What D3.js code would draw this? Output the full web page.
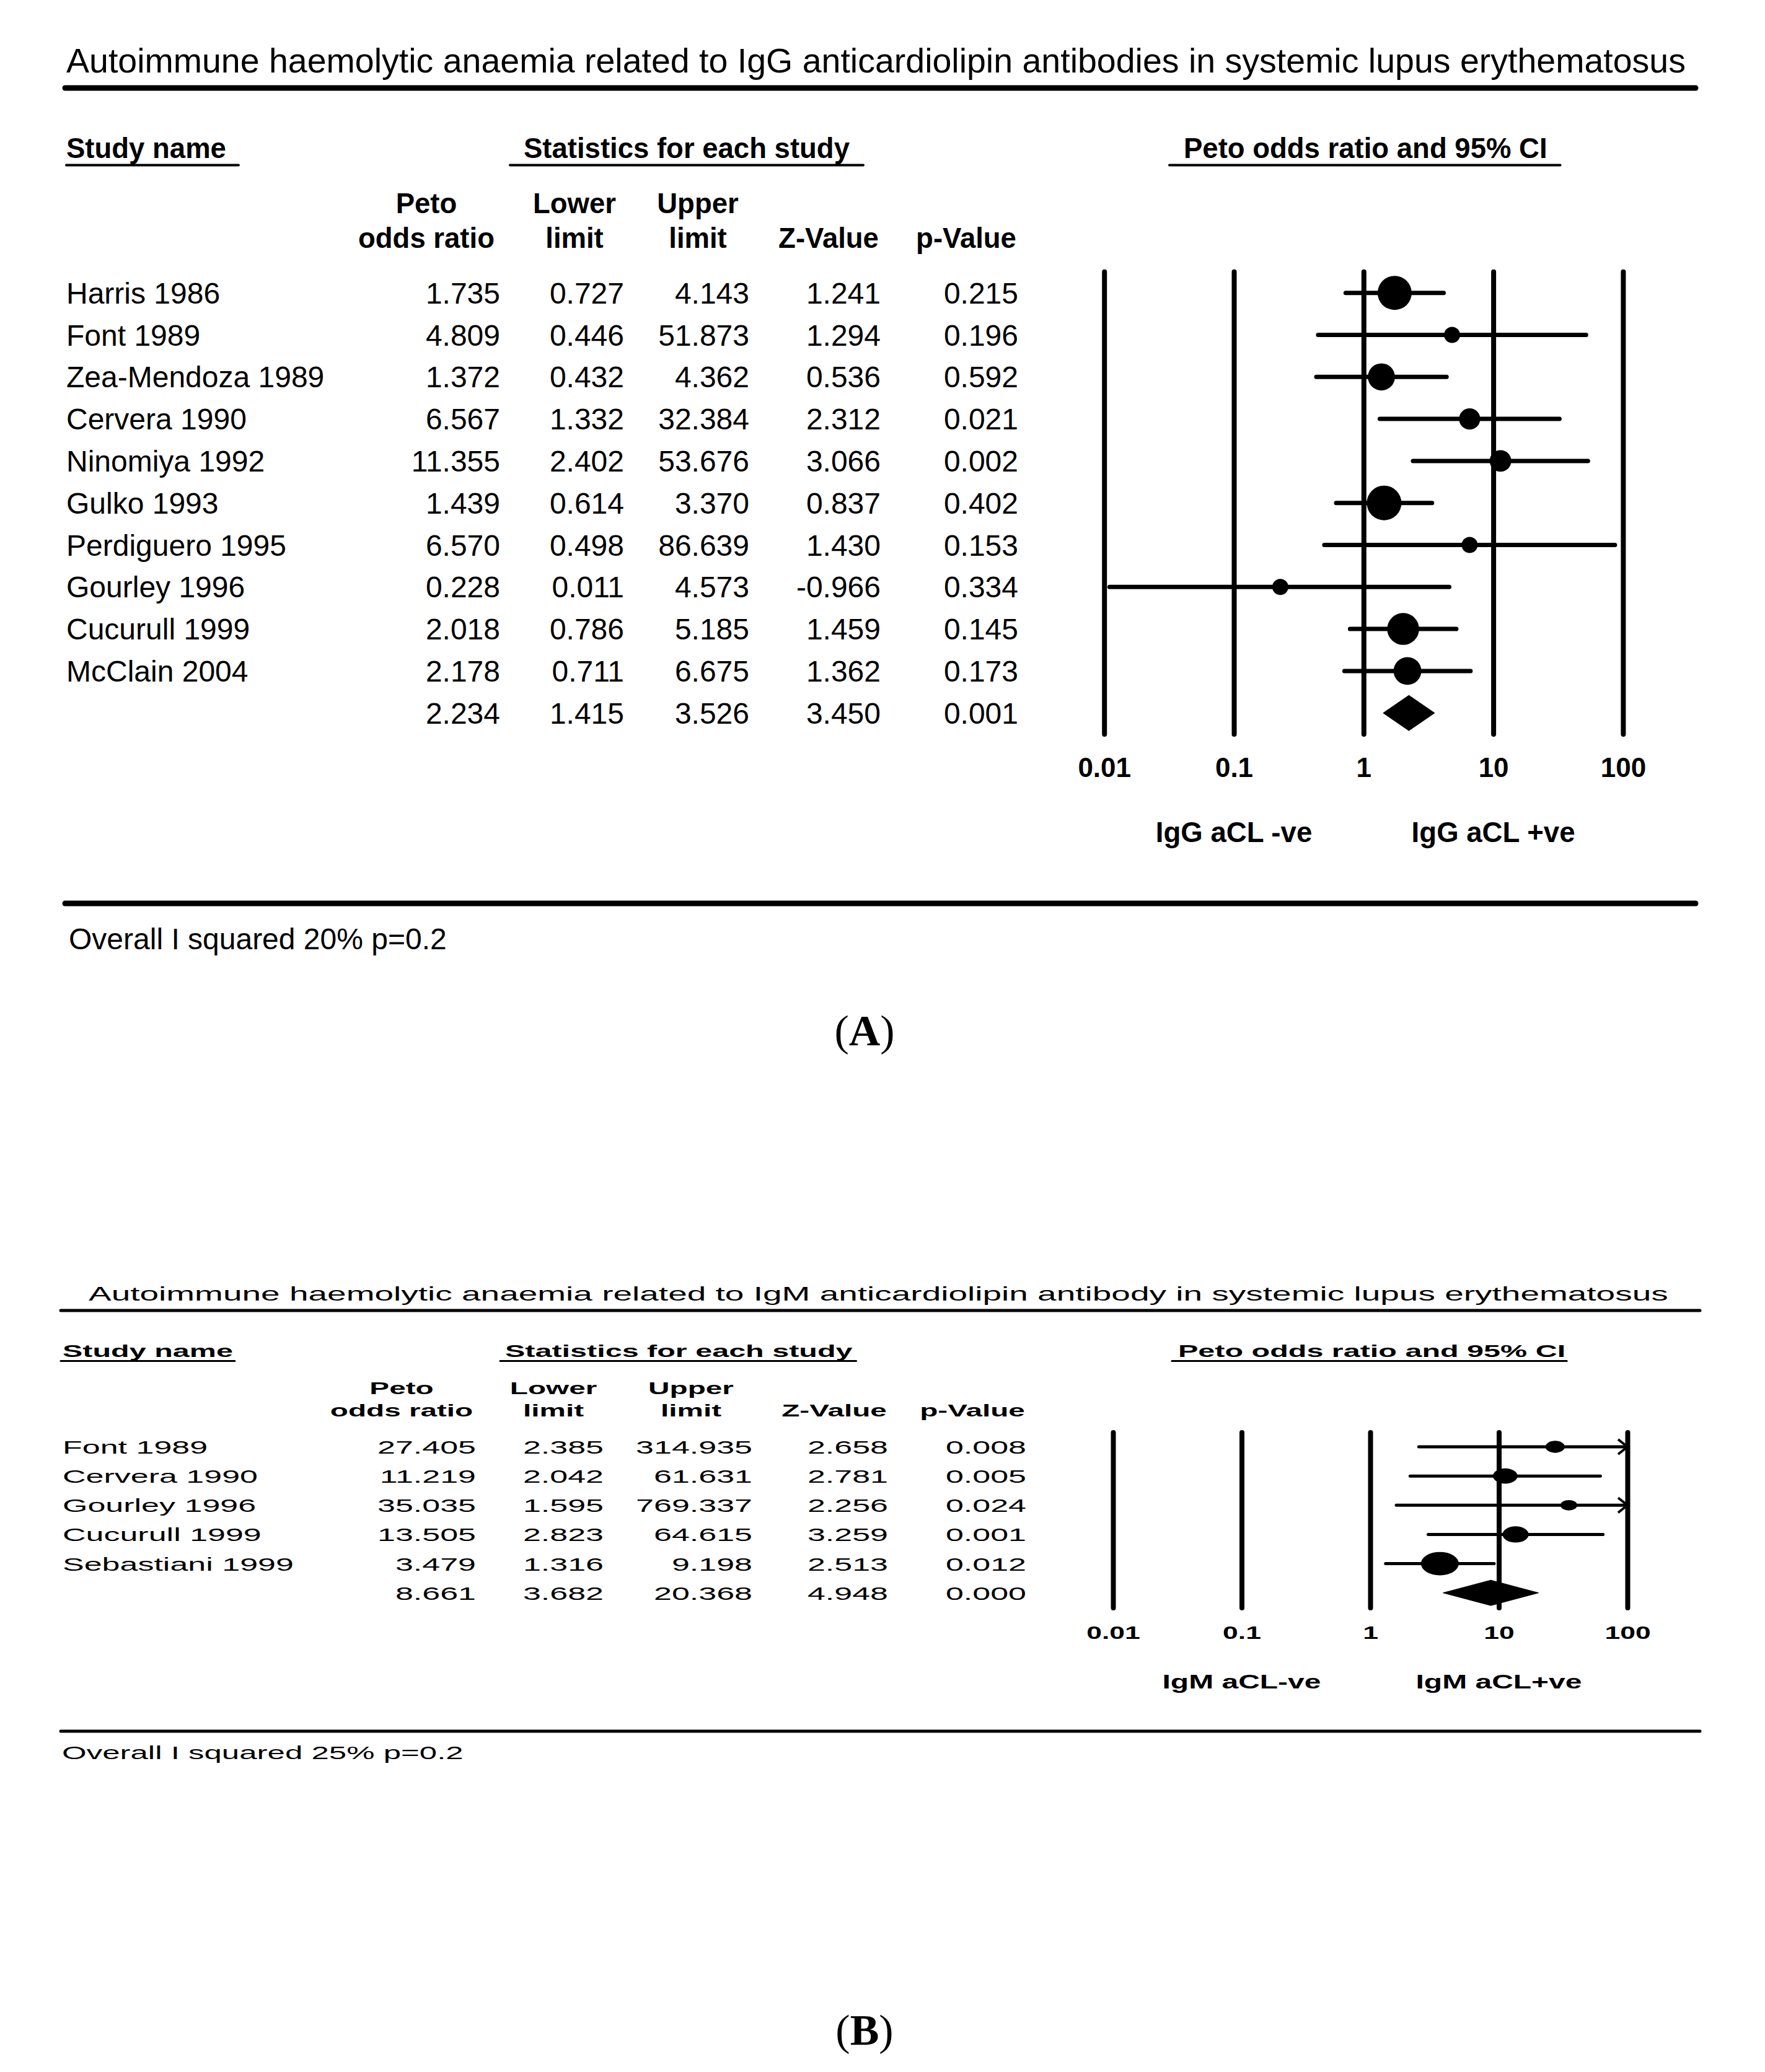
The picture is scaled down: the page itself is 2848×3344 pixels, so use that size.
<!DOCTYPE html>
<html><head><meta charset="utf-8">
<script src="https://cdn.jsdelivr.net/npm/d3@7"></script>
<style>html,body{margin:0;padding:0;background:#fff}</style>
</head><body>
<svg id="c" width="2848" height="3344" xmlns="http://www.w3.org/2000/svg"></svg>
<script>
// ---------------- Panel A data ----------------
const titleA = "Autoimmune haemolytic anaemia related to IgG anticardiolipin antibodies in systemic lupus erythematosus";
const studiesA = ["Harris 1986","Font 1989","Zea-Mendoza 1989","Cervera 1990","Ninomiya 1992","Gulko 1993","Perdiguero 1995","Gourley 1996","Cucurull 1999","McClain 2004",""];
const orA    = [1.735, 4.809, 1.372, 6.567, 11.355, 1.439, 6.570, 0.228, 2.018, 2.178, 2.234];
const lowerA = [0.727, 0.446, 0.432, 1.332, 2.402, 0.614, 0.498, 0.011, 0.786, 0.711, 1.415];
const upperA = [4.143, 51.873, 4.362, 32.384, 53.676, 3.370, 86.639, 4.573, 5.185, 6.675, 3.526];
const zA     = [1.241, 1.294, 0.536, 2.312, 3.066, 0.837, 1.430, -0.966, 1.459, 1.362, 3.450];
const pA     = [0.215, 0.196, 0.592, 0.021, 0.002, 0.402, 0.153, 0.334, 0.145, 0.173, 0.001];
const sideLabelsA = ["IgG aCL -ve", "IgG aCL +ve"];
const footA = "Overall I squared 20% p=0.2";

// ---------------- Panel B data ----------------
const titleB = "Autoimmune haemolytic anaemia related to IgM anticardiolipin antibody in systemic lupus erythematosus";
const studiesB = ["Font 1989","Cervera 1990","Gourley 1996","Cucurull 1999","Sebastiani 1999",""];
const orB    = [27.405, 11.219, 35.035, 13.505, 3.479, 8.661];
const lowerB = [2.385, 2.042, 1.595, 2.823, 1.316, 3.682];
const upperB = [314.935, 61.631, 769.337, 64.615, 9.198, 20.368];
const zB     = [2.658, 2.781, 2.256, 3.259, 2.513, 4.948];
const pB     = [0.008, 0.005, 0.024, 0.001, 0.012, 0.000];
const sideLabelsB = ["IgM aCL-ve", "IgM aCL+ve"];
const footB = "Overall I squared 25% p=0.2";

// ---------------- shared labels ----------------
const tickValues = [0.01, 0.1, 1, 10, 100];
const tickLabels = ["0.01", "0.1", "1", "10", "100"];
const groupHeads = ["Study name", "Statistics for each study", "Peto odds ratio and 95% CI"];
const colHeads1 = ["Peto", "Lower", "Upper", "", ""];
const colHeads2 = ["odds ratio", "limit", "limit", "Z-Value", "p-Value"];
const panelLabels = ["A", "B"];

const SANS = "'Liberation Sans', Arial, Helvetica, sans-serif";
const SERIF = "'Liberation Serif', 'Times New Roman', serif";

// ---------------- layouts ----------------
const layoutA = {
  sy: 1,
  title: {x: 107, y: 117, size: 55.5, sy: 1},
  topRule: {x1: 105, x2: 2736, y: 142, w: 9},
  gh: {y: 255, size: 45.5, left: [107, 845, 1910], pad: [[0, 20], [22, 22], [23, 21]], ul: 266.5, ulw: 4},
  ch: {y1: 344, y2: 400, size: 45.5, cx: [688, 927, 1126, 1337, 1559]},
  rows: {y0: 472.7, y1: 1150.7, size: 48, dy: 17, nameX: 107, right: [807, 1007, 1209, 1421, 1643]},
  f: {x0: 1781.7, x1: 2618.9, top: 438.7, bottom: 1185, gridW: 8, ciW: 7,
      rDomain: [0.824, 2.30], rRange: [13, 28], ryRatio: 1, dH: 28.5, aw: 15, ah: 12},
  ticks: {y: 1254, size: 44, sy: 1},
  side: {y: 1359, size: 45.6, sy: 1},
  bottomRule: {x1: 105, x2: 2736, y: 1458, w: 9},
  foot: {x: 111, y: 1532, size: 48},
  label: {x: 1395, y: 1687, size: 70}
};
const layoutB = {
  sy: 0.57,
  title: {x: 143, y: 2099, size: 55, sy: 0.57},
  topRule: {x1: 98, x2: 2743, y: 2115, w: 5},
  gh: {y: 2190, size: 48.5, left: [101, 815, 1901], pad: [[3, 3], [8, 6], [10, 2]], ul: 2196.5, ulw: 3},
  ch: {y1: 2250, y2: 2286, size: 47.7, cx: [648, 893, 1115, 1346, 1569]},
  rows: {y0: 2335, y1: 2570.7, size: 52, dy: 11, nameX: 101, right: [768, 974, 1214, 1433, 1656]},
  f: {x0: 1796, x1: 2626, top: 2312, bottom: 2595, gridW: 8, ciW: 5,
      rDomain: [0.634, 2.016], rRange: [13.5, 30.5], ryRatio: 0.62, dH: 20.5, aw: 15, ah: 12},
  ticks: {y: 2645, size: 44.5, sy: 0.67},
  side: {y: 2725, size: 48, sy: 0.67},
  bottomRule: {x1: 98, x2: 2743, y: 2794, w: 5},
  foot: {x: 100, y: 2839, size: 51},
  label: {x: 1395, y: 3300, size: 70}
};

const svg = d3.select("#c");
svg.append("rect").attr("width", 2848).attr("height", 3344).attr("fill", "#fff");

function T(g, x, y, s, o) {
  return g.append("text")
    .attr("transform", `translate(${x},${y}) scale(1,${o.sy || 1})`)
    .attr("font-family", o.family || SANS)
    .attr("font-size", o.size)
    .attr("font-weight", o.weight || "normal")
    .attr("text-anchor", o.anchor || "start")
    .attr("fill", "#000")
    .text(s);
}
function rule(g, r) {
  g.append("line").attr("x1", r.x1).attr("x2", r.x2).attr("y1", r.y).attr("y2", r.y)
    .attr("stroke", "#000").attr("stroke-width", r.w).attr("stroke-linecap", "round");
}

function drawPanel(L, D, panelLabel) {
  const g = svg.append("g");
  // title + rule
  T(g, L.title.x, L.title.y, D.title, {size: L.title.size, sy: L.title.sy});
  rule(g, L.topRule);

  // group headers with underline
  groupHeads.forEach((h, i) => {
    const t = T(g, L.gh.left[i], L.gh.y, h, {size: L.gh.size, weight: "bold", sy: L.sy});
    const w = t.node().getComputedTextLength();
    g.append("line")
      .attr("x1", L.gh.left[i] - L.gh.pad[i][0]).attr("x2", L.gh.left[i] + w + L.gh.pad[i][1])
      .attr("y1", L.gh.ul).attr("y2", L.gh.ul)
      .attr("stroke", "#000").attr("stroke-width", L.gh.ulw).attr("stroke-linecap", "round");
  });

  // column headers
  colHeads1.forEach((h, i) => {
    if (h) T(g, L.ch.cx[i], L.ch.y1, h, {size: L.ch.size, weight: "bold", anchor: "middle", sy: L.sy});
    T(g, L.ch.cx[i], L.ch.y2, colHeads2[i], {size: L.ch.size, weight: "bold", anchor: "middle", sy: L.sy});
  });

  const n = D.names.length;
  const y = d3.scalePoint().domain(d3.range(n)).range([L.rows.y0, L.rows.y1]);
  const fmt = v => v.toFixed(3);

  // table rows
  d3.range(n).forEach(i => {
    const by = y(i) + L.rows.dy;
    if (D.names[i]) T(g, L.rows.nameX, by, D.names[i], {size: L.rows.size, sy: L.sy});
    [D.or, D.lower, D.upper, D.z, D.p].forEach((col, j) => {
      T(g, L.rows.right[j], by, fmt(col[i]), {size: L.rows.size, anchor: "end", sy: L.sy});
    });
  });

  // forest plot
  const x = d3.scaleLog().domain([0.01, 100]).range([L.f.x0, L.f.x1]);
  const ax = g.append("g").attr("transform", `translate(0,${L.f.top})`)
    .call(d3.axisBottom(x).tickValues(tickValues).tickFormat((d, i) => tickLabels[i])
      .tickSize(L.f.bottom - L.f.top).tickPadding(0));
  ax.select(".domain").remove();
  ax.attr("font-family", SANS).attr("font-size", L.ticks.size).attr("font-weight", "bold");
  ax.selectAll(".tick line").attr("stroke", "#000").attr("stroke-width", L.f.gridW).attr("stroke-linecap", "round");
  ax.selectAll(".tick text").attr("y", 0).attr("dy", null).attr("fill", "#000")
    .attr("transform", `translate(0,${L.ticks.y - L.f.top}) scale(1,${L.ticks.sy})`);

  const r = d3.scaleLinear().domain(L.f.rDomain).range(L.f.rRange).clamp(true);
  const fg = g.append("g");
  d3.range(n).forEach(i => {
    const cy = y(i);
    const lo = D.lower[i], hi = D.upper[i], est = D.or[i];
    if (i === n - 1) {
      const pts = [[x(lo), cy], [x(est), cy - L.f.dH], [x(hi), cy], [x(est), cy + L.f.dH]];
      fg.append("path").attr("d", d3.line()(pts) + "Z").attr("fill", "#000").attr("stroke", "#000").attr("stroke-width", 1);
      return;
    }
    const xl = x(Math.max(lo, 0.01)), xh = x(Math.min(hi, 100));
    fg.append("line").attr("x1", xl).attr("x2", xh).attr("y1", cy).attr("y2", cy)
      .attr("stroke", "#000").attr("stroke-width", L.f.ciW).attr("stroke-linecap", "round");
    if (hi > 100) {
      fg.append("path")
        .attr("d", d3.line()([[xh - L.f.aw, cy - L.f.ah], [xh, cy], [xh - L.f.aw, cy + L.f.ah]]))
        .attr("fill", "none").attr("stroke", "#000").attr("stroke-width", L.f.ciW * 0.8);
    }
    const se = (Math.log(hi) - Math.log(lo)) / (2 * 1.96);
    const rx = r(1 / se);
    fg.append("ellipse").attr("cx", x(est)).attr("cy", cy).attr("rx", rx).attr("ry", rx * L.f.ryRatio).attr("fill", "#000");
  });

  // side labels
  T(g, x(0.1), L.side.y, D.side[0], {size: L.side.size, weight: "bold", anchor: "middle", sy: L.side.sy});
  T(g, x(10), L.side.y, D.side[1], {size: L.side.size, weight: "bold", anchor: "middle", sy: L.side.sy});

  rule(g, L.bottomRule);
  T(g, L.foot.x, L.foot.y, D.foot, {size: L.foot.size, sy: L.sy});

  // panel label
  const pl = g.append("text").attr("x", L.label.x).attr("y", L.label.y)
    .attr("font-family", SERIF).attr("font-size", L.label.size).attr("text-anchor", "middle").attr("fill", "#000");
  pl.append("tspan").text("(");
  pl.append("tspan").attr("font-weight", "bold").text(panelLabel);
  pl.append("tspan").text(")");
}

drawPanel(layoutA, {title: titleA, names: studiesA, or: orA, lower: lowerA, upper: upperA, z: zA, p: pA, side: sideLabelsA, foot: footA}, panelLabels[0]);
drawPanel(layoutB, {title: titleB, names: studiesB, or: orB, lower: lowerB, upper: upperB, z: zB, p: pB, side: sideLabelsB, foot: footB}, panelLabels[1]);
</script>
</body></html>
